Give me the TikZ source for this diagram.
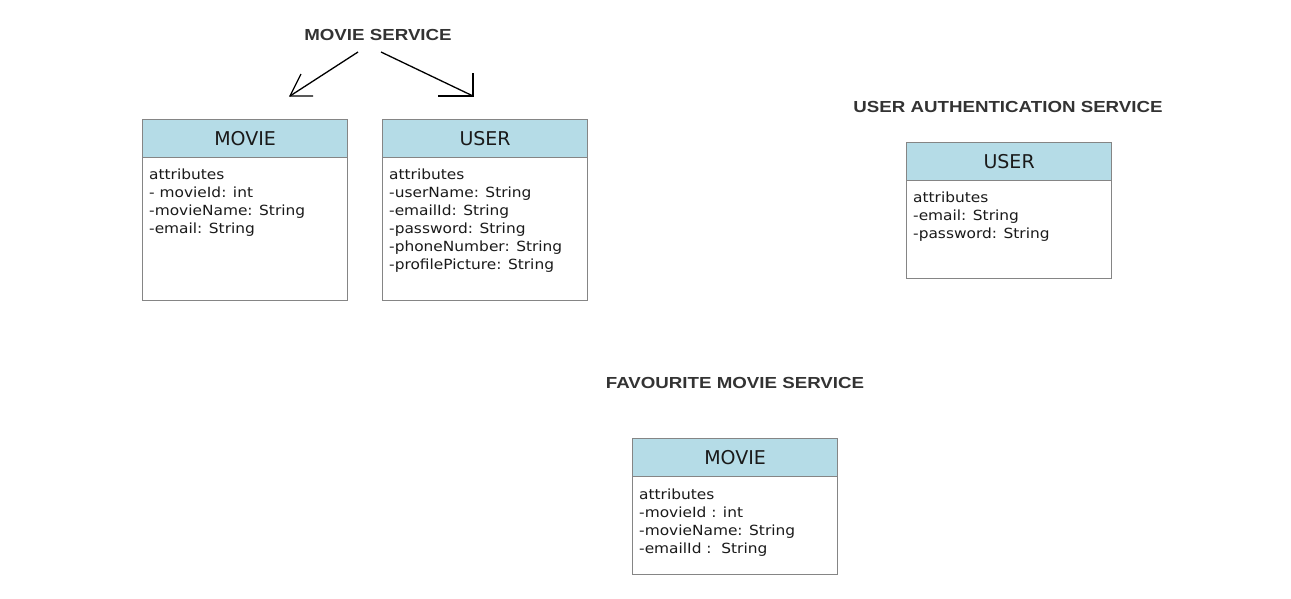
\documentclass[tikz,border=0pt]{standalone}
\usepackage{fontspec}
\setmainfont{DejaVu Sans}
\newfontfamily\bodyfont[FakeStretch=1.1]{DejaVu Sans}
\newfontfamily\headfont{DejaVu Sans}
\newfontfamily\titlefont[FakeStretch=1.17]{Liberation Sans}
\definecolor{hdrfill}{HTML}{B5DCE7}
\definecolor{boxline}{HTML}{858585}
\definecolor{titlecol}{HTML}{333333}
\definecolor{txtcol}{HTML}{1A1A1A}
\tikzset{
  hdr/.style={draw=boxline, fill=hdrfill, line width=1.2pt, minimum width=205pt, minimum height=38pt, inner sep=0pt, anchor=north west, font=\headfont\fontsize{19}{22}\selectfont, text=txtcol},
  bodybox/.style={draw=boxline, fill=white, line width=1.2pt, minimum width=205pt, inner sep=0pt, anchor=north west},
  bodytxt/.style={anchor=north west, inner sep=0pt, align=left, font=\bodyfont\fontsize{14}{18}\selectfont, text=txtcol},
  svctitle/.style={font=\titlefont\bfseries\fontsize{16}{19}\selectfont, text=titlecol, inner sep=0pt},
  conn/.style={line width=1.3pt, black},
}
\begin{document}
\begin{tikzpicture}[x=1pt,y=-1pt]
\useasboundingbox (0,0) rectangle (1291,598);
% titles
\node[svctitle] (t1) at (378,35) {MOVIE SERVICE};
\node[svctitle] (t2) at (1008,107) {USER AUTHENTICATION SERVICE};
\node[svctitle] (t3) at (735,383) {FAVOURITE MOVIE SERVICE};
% box A
\node[bodybox, minimum height=143pt] (ab) at (142,157) {};
\node[hdr] (ah) at (142,119) {MOVIE};
\node[bodytxt] (at) at (149,169) {attributes\\- movieId: int\\-movieName: String\\-email: String};
% box B
\node[bodybox, minimum height=143pt] (bb) at (382,157) {};
\node[hdr] (bh) at (382,119) {USER};
\node[bodytxt] (bt) at (389,169) {attributes\\-userName: String\\-emailId: String\\-password: String\\-phoneNumber: String\\-profilePicture: String};
% box C
\node[bodybox, minimum height=98pt] (cb) at (906,180) {};
\node[hdr] (ch) at (906,142) {USER};
\node[bodytxt] (ct) at (913,192) {attributes\\-email: String\\-password: String};
% box D
\node[bodybox, minimum height=98pt] (db) at (632,476) {};
\node[hdr] (dh) at (632,438) {MOVIE};
\node[bodytxt] (dt) at (639,489) {attributes\\-movieId : int\\-movieName: String\\-emailId :\ \ String};
% arrows
\coordinate (l0) at (358,52);
\coordinate (l1) at (290,96);
\coordinate (l2) at (313,96);
\coordinate (l3) at (301,74);
\coordinate (r0) at (381,52);
\coordinate (r1) at (473,96);
\coordinate (r2) at (438,96);
\coordinate (r3) at (473,73);
\draw[conn] (l0) -- (l1);
\draw[conn] (l2) -- (l1) -- (l3);
\draw[conn] (r0) -- (r1);
\draw[conn] (r2) -- (r1) -- (r3);
\end{tikzpicture}
\end{document}
